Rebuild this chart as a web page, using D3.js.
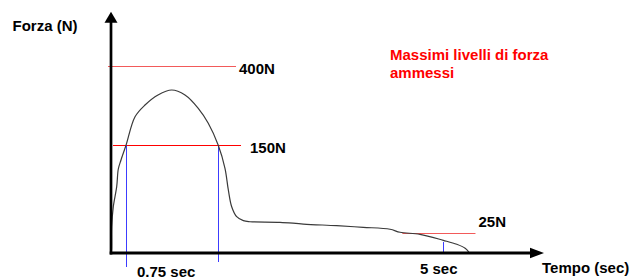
<!DOCTYPE html>
<html><head><meta charset="utf-8">
<script src="https://cdn.jsdelivr.net/npm/d3@7"></script>
<style>
html,body{margin:0;padding:0;background:#fff;}
svg{display:block;font-family:"Liberation Sans",Arial,sans-serif;font-weight:bold;}
</style></head><body>
<svg id="c" width="638" height="279"></svg>
<script>
// ---- data ----
// schematic force-time curve: time (sec), force (N)
const curveTime  = [0, 0.025, 0.035, 0.115, 0.285, 0.365, 0.5, 0.75, 0.871, 1.005, 1.179, 1.363, 1.541, 1.719, 1.853, 1.987, 2.077, 2.122, 2.167, 2.234, 2.323, 2.412, 2.815, 3.127, 3.575, 3.931, 4.29, 4.424, 4.692, 5.004, 5.184, 5.296, 5.34, 5.35];
const curveForce = [0, 3.7, 33.6, 62.2, 90.8, 116.1, 129, 150, 240, 277, 308.6, 324.3, 308.6, 266.6, 219.4, 150, 117.1, 86.1, 62.2, 47.9, 42.2, 40.7, 39.9, 37.4, 35, 32.7, 29.9, 25.6, 23, 15.6, 10.7, 5.8, 1.6, 0];
// maximum allowed force levels
const levelForce = [400, 150, 25];
const levelLabels = ["400N", "150N", "25N"];
const levelStart = [-0.15, 0.1, 4.455];
const levelEnd   = [2.225, 2.292, 5.434];
// time markers
const markTime  = [0.75, 1.99, 5];
const markForce = [150, 150, 13.5];
const timeLabels = ["0.75 sec", "5 sec"];
const timeLabelAt = [0.75, 5];
const axisTitles = {x: "Tempo (sec)", y: "Forza (N)"};
const noteLines = ["Massimi livelli di forza", "ammessi"];

// ---- scales (schematic, piecewise) ----
const x = d3.scaleLinear().domain([0, 0.75, 5, 6.35]).range([111, 126, 443, 544]);
const y = d3.scaleLinear().domain([0, 25, 150, 400, 570]).range([253, 232.7, 145.3, 66, 11.7]);

const svg = d3.select("#c");
const FS = 15;

// level lines
const levelColors = ["#f25a5a", "#ff0000", "#f25a5a"];
svg.selectAll("line.level").data(levelForce).join("line")
  .attr("class","level")
  .attr("x1",(d,i)=>x(levelStart[i])).attr("x2",(d,i)=>x(levelEnd[i]))
  .attr("y1",d=>Math.round(y(d))+0.5).attr("y2",d=>Math.round(y(d))+0.5)
  .attr("stroke",(d,i)=>levelColors[i]).attr("stroke-width",1.2);

// blue markers
const markExt = [14, 9, 0];
svg.selectAll("line.mark").data(markTime).join("line")
  .attr("class","mark")
  .attr("x1",d=>Math.round(x(d))+0.5).attr("x2",d=>Math.round(x(d))+0.5)
  .attr("y1",(d,i)=>y(markForce[i])).attr("y2",(d,i)=>y(0)+markExt[i])
  .attr("stroke","#3c3cff").attr("stroke-width",1);

// curve
const pts = curveTime.map((t,i)=>[t, curveForce[i]]);
svg.append("path").datum(pts)
  .attr("d", d3.line().x(d=>x(d[0])).y(d=>y(d[1])).curve(d3.curveCatmullRom.alpha(0.5)))
  .attr("fill","none").attr("stroke","#3a3a3a").attr("stroke-width",1.2);

// axes with arrows
const x0 = x(0), y0 = y(0);
const xEnd = x(x.domain()[x.domain().length-1]);
const yEnd = y(y.domain()[y.domain().length-1]);
svg.append("line").attr("x1",x0).attr("x2",x0).attr("y1",y0+1.5).attr("y2",yEnd+10)
  .attr("stroke","#000").attr("stroke-width",2.7);
svg.append("path").attr("d",`M${x0},${yEnd} L${x0-6.5},${yEnd+11} L${x0+6.5},${yEnd+11} Z`).attr("fill","#000");
svg.append("line").attr("x1",x0-1.3).attr("x2",xEnd-12).attr("y1",y0).attr("y2",y0)
  .attr("stroke","#000").attr("stroke-width",3);
svg.append("path").attr("d",`M${xEnd},${y0} L${xEnd-14},${y0-5.3} L${xEnd-14},${y0+5.3} Z`).attr("fill","#000");

// labels
const levelLabelDx = [3, 9, 3];
const levelLabelDy = [7.5, 8, -5.5];
svg.selectAll("text.lvl").data(levelLabels).join("text")
  .attr("class","lvl")
  .attr("x",(d,i)=>x(levelEnd[i])+levelLabelDx[i])
  .attr("y",(d,i)=>y(levelForce[i])+levelLabelDy[i])
  .attr("font-size",FS).attr("fill","#000").text(d=>d);

const timeLabelDx = [11, -23];
const timeLabelY = [277, 274];
svg.selectAll("text.tl").data(timeLabels).join("text")
  .attr("class","tl")
  .attr("x",(d,i)=>x(timeLabelAt[i])+timeLabelDx[i])
  .attr("y",(d,i)=>timeLabelY[i])
  .attr("font-size",FS).attr("fill","#000").text(d=>d);

svg.append("text").attr("x",542).attr("y",273).attr("font-size",FS).text(axisTitles.x);
svg.append("text").attr("x",12.5).attr("y",30.5).attr("font-size",FS).text(axisTitles.y);

svg.selectAll("text.note").data(noteLines).join("text")
  .attr("class","note")
  .attr("x",390).attr("y",(d,i)=>60+i*17.5)
  .attr("font-size",FS).attr("fill","#ff0000").text(d=>d);
</script>
</body></html>
